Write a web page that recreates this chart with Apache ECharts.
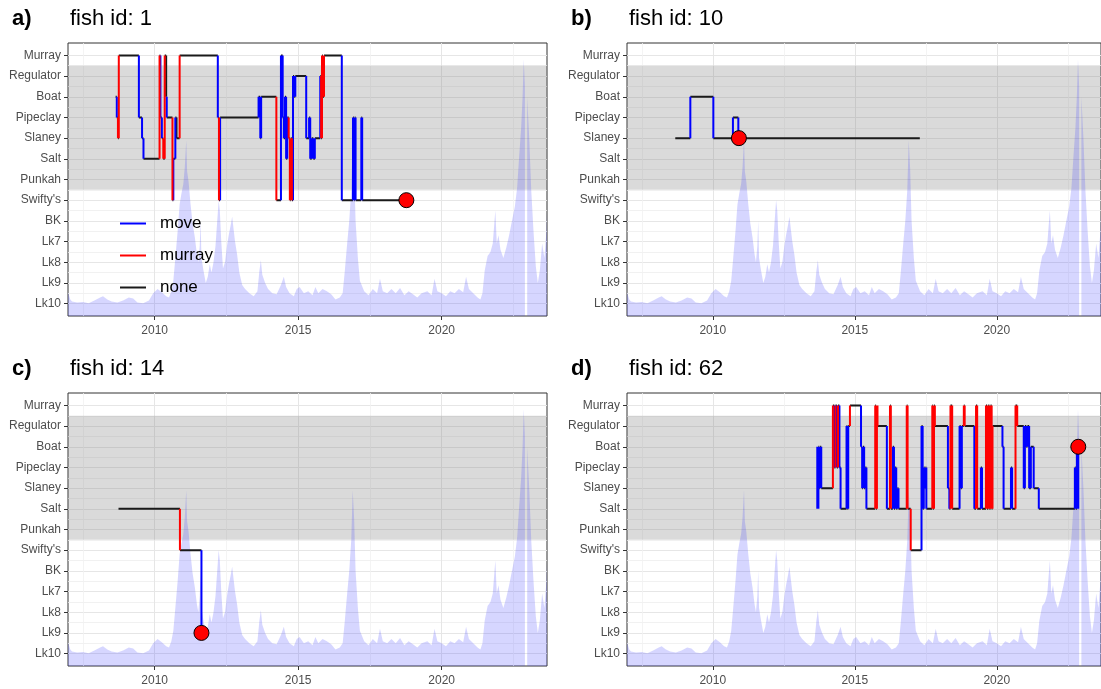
<!DOCTYPE html>
<html>
<head>
<meta charset="utf-8">
<script src="https://cdn.jsdelivr.net/npm/echarts@6/dist/echarts.min.js"></script>
<style>
  html, body { margin: 0; padding: 0; background: #fff; }
  #main { width: 1101px; height: 689px; }
</style>
</head>
<body>
<div id="main"></div>
<script>
// sites, bottom to top of the y axis
const locations = ['Lk10', 'Lk9', 'Lk8', 'Lk7', 'BK', "Swifty's", 'Punkah', 'Salt', 'Slaney', 'Pipeclay', 'Boat', 'Regulator', 'Murray'];
const moveTypes = ['move', 'murray', 'none'];
const majorYears = [2010, 2015, 2020];
const minorYears = [2007.5, 2012.5, 2017.5, 2022.5];

// river flow (scaled to the site axis)
const flowYear = [
  2006.98, 2007.02, 2007.06, 2007.12, 2007.3, 2007.5, 2007.7, 2007.9, 2008.1, 2008.2,
  2008.35, 2008.5, 2008.7, 2008.9, 2009.1, 2009.25, 2009.4, 2009.6, 2009.8, 2009.95,
  2010.1, 2010.25, 2010.4, 2010.5, 2010.58, 2010.65, 2010.72, 2010.8, 2010.87, 2010.93,
  2011.0, 2011.05, 2011.1, 2011.13, 2011.18, 2011.25, 2011.32, 2011.4, 2011.47, 2011.52,
  2011.57, 2011.6, 2011.63, 2011.7, 2011.78, 2011.85, 2011.92, 2011.98, 2012.05, 2012.12,
  2012.18, 2012.23, 2012.27, 2012.32, 2012.38, 2012.45, 2012.52, 2012.58, 2012.65, 2012.7,
  2012.75, 2012.8, 2012.87, 2012.95, 2013.05, 2013.15, 2013.3, 2013.45, 2013.58, 2013.65,
  2013.7, 2013.75, 2013.85, 2013.95, 2014.1, 2014.25, 2014.4, 2014.5, 2014.58, 2014.7,
  2014.85, 2014.95, 2015.05, 2015.2, 2015.35, 2015.5, 2015.6, 2015.7, 2015.85, 2016.0,
  2016.15, 2016.3, 2016.45, 2016.55, 2016.62, 2016.7, 2016.78, 2016.85, 2016.9, 2016.95,
  2017.0, 2017.08, 2017.15, 2017.3, 2017.45, 2017.6, 2017.75, 2017.85, 2017.95, 2018.1,
  2018.25, 2018.4, 2018.55, 2018.7, 2018.85, 2019.0, 2019.15, 2019.3, 2019.5, 2019.65,
  2019.75, 2019.85, 2020.0, 2020.15, 2020.3, 2020.45, 2020.6, 2020.75, 2020.85, 2020.95,
  2021.1, 2021.25, 2021.35, 2021.42, 2021.5, 2021.6, 2021.7, 2021.78, 2021.83, 2021.87,
  2021.92, 2021.98, 2022.05, 2022.15, 2022.25, 2022.35, 2022.45, 2022.55, 2022.63, 2022.7,
  2022.77, 2022.82, 2022.86, 2022.9, 2022.92, 2022.96, 2022.98, 2023.05, 2023.12, 2023.2,
  2023.28, 2023.35, 2023.42, 2023.5, 2023.58, 2023.65, 2023.67
];
const flowLevel = [
  1.55, 1.5, 1.2, 1.1, 1.05, 1.08, 1.02, 1.15, 1.3, 1.35,
  1.2, 1.1, 1.05, 1.15, 1.3, 1.25, 1.05, 1.02, 1.15, 1.5,
  1.7, 1.55, 1.35, 1.3, 1.6, 2.1, 3.2, 4.5, 5.8, 6.3,
  6.8, 7.6, 8.9, 7.4, 6.9, 5.8, 4.9, 4.2, 3.4, 3.0,
  3.8, 5.0, 3.2, 2.6, 2.0, 2.3, 2.9, 2.5, 3.0, 3.8,
  5.0, 6.0, 5.5, 4.0, 2.7, 3.0, 3.8, 4.3, 4.8, 5.2,
  4.6, 4.0, 3.4, 2.5, 1.9, 1.7, 1.5, 1.35, 1.6, 2.6,
  3.1, 2.4, 2.0, 1.7, 1.5, 1.45, 1.9, 2.3, 1.8, 1.5,
  1.35, 1.7, 1.8, 1.5, 1.6, 1.4, 1.8, 1.5, 1.7, 1.6,
  1.45, 1.2, 1.3, 1.5, 2.5, 3.8, 5.0, 6.5, 8.9, 7.5,
  5.0, 3.2, 2.1, 1.6, 1.4, 1.7, 1.5, 2.2, 1.6, 1.5,
  1.7, 1.5, 1.75, 1.4, 1.6, 1.45, 1.3, 1.5, 1.6, 1.4,
  2.2, 1.6, 1.5, 1.35, 1.6, 1.5, 1.7, 1.55, 2.3, 1.7,
  1.5, 1.3, 1.2, 1.5, 2.6, 3.3, 3.5, 3.9, 4.8, 5.5,
  3.9, 4.3, 3.6, 3.2, 3.7, 4.3, 5.0, 5.7, 6.6, 8.1,
  9.5, 11.0, 12.8, 11.5, null, null, 11.0, 9.0, 6.5, 4.5,
  2.8, 2.0, 2.6, 3.9, 3.2, 4.5, 5.4
];

// detections: [decimal year, site, how the fish got there]
const fish1Track = [
  [2008.64, 'Boat', 'none'], [2008.68, 'Pipeclay', 'move'], [2008.72, 'Slaney', 'murray'],
  [2008.75, 'Murray', 'murray'], [2009.45, 'Pipeclay', 'move'], [2009.56, 'Slaney', 'move'],
  [2009.61, 'Salt', 'move'], [2010.17, 'Murray', 'murray'], [2010.2, 'Pipeclay', 'move'],
  [2010.25, 'Slaney', 'move'], [2010.3, 'Salt', 'murray'], [2010.35, 'Murray', 'murray'],
  [2010.4, 'Boat', 'none'], [2010.42, 'Pipeclay', 'move'], [2010.62, "Swifty's", 'murray'],
  [2010.65, 'Salt', 'move'], [2010.72, 'Pipeclay', 'move'], [2010.76, 'Slaney', 'none'],
  [2010.87, 'Murray', 'murray'], [2012.2, 'Pipeclay', 'move'], [2012.24, "Swifty's", 'murray'],
  [2012.28, 'Pipeclay', 'move'], [2013.62, 'Boat', 'move'], [2013.68, 'Slaney', 'move'],
  [2013.71, 'Boat', 'move'], [2014.24, "Swifty's", 'murray'], [2014.4, 'Murray', 'move'],
  [2014.46, 'Pipeclay', 'move'], [2014.5, 'Slaney', 'move'], [2014.54, 'Boat', 'move'],
  [2014.58, 'Salt', 'move'], [2014.62, 'Pipeclay', 'move'], [2014.67, 'Slaney', 'murray'],
  [2014.71, "Swifty's", 'murray'], [2014.74, 'Slaney', 'murray'], [2014.78, "Swifty's", 'murray'],
  [2014.82, 'Regulator', 'move'], [2014.86, 'Boat', 'move'], [2014.9, 'Regulator', 'move'],
  [2015.28, 'Slaney', 'move'], [2015.38, 'Pipeclay', 'move'], [2015.42, 'Salt', 'move'],
  [2015.47, 'Slaney', 'move'], [2015.53, 'Salt', 'move'], [2015.58, 'Slaney', 'move'],
  [2015.77, 'Regulator', 'move'], [2015.8, 'Slaney', 'murray'], [2015.83, 'Murray', 'murray'],
  [2015.86, 'Boat', 'murray'], [2015.9, 'Murray', 'murray'], [2016.52, "Swifty's", 'move'],
  [2016.91, 'Pipeclay', 'move'], [2016.94, "Swifty's", 'move'], [2016.97, 'Pipeclay', 'move'],
  [2017.0, "Swifty's", 'move'], [2017.2, 'Pipeclay', 'move'], [2017.23, "Swifty's", 'move'],
  [2018.77, "Swifty's", 'none']
];
const fish10Track = [
  [2008.68, 'Slaney', 'none'], [2009.21, 'Boat', 'move'], [2010.02, 'Slaney', 'move'],
  [2010.71, 'Pipeclay', 'move'], [2010.9, 'Slaney', 'move'], [2017.29, 'Slaney', 'none']
];
const fish14Track = [
  [2008.74, 'Salt', 'none'], [2010.88, "Swifty's", 'murray'], [2011.63, 'Lk9', 'move']
];
const fish62Track = [
  [2013.66, 'Salt', 'none'], [2013.68, 'Boat', 'move'], [2013.7, 'Salt', 'move'],
  [2013.72, 'Boat', 'move'], [2013.75, 'Slaney', 'move'], [2013.78, 'Boat', 'move'],
  [2013.82, 'Slaney', 'move'], [2014.23, 'Murray', 'murray'], [2014.28, 'Pipeclay', 'move'],
  [2014.32, 'Murray', 'murray'], [2014.37, 'Pipeclay', 'move'], [2014.41, 'Murray', 'murray'],
  [2014.46, 'Pipeclay', 'move'], [2014.5, 'Salt', 'move'], [2014.71, 'Regulator', 'move'],
  [2014.74, 'Salt', 'move'], [2014.77, 'Regulator', 'move'], [2014.83, 'Murray', 'murray'],
  [2015.22, 'Boat', 'move'], [2015.26, 'Slaney', 'move'], [2015.29, 'Boat', 'move'],
  [2015.33, 'Slaney', 'move'], [2015.37, 'Pipeclay', 'move'], [2015.41, 'Salt', 'move'],
  [2015.72, 'Murray', 'murray'], [2015.75, 'Salt', 'murray'], [2015.78, 'Murray', 'murray'],
  [2015.8, 'Regulator', 'murray'], [2016.13, 'Salt', 'move'], [2016.24, 'Murray', 'murray'],
  [2016.27, 'Salt', 'murray'], [2016.34, 'Boat', 'move'], [2016.38, 'Salt', 'move'],
  [2016.42, 'Pipeclay', 'move'], [2016.46, 'Salt', 'move'], [2016.5, 'Slaney', 'move'],
  [2016.54, 'Salt', 'move'], [2016.83, 'Murray', 'murray'], [2016.86, 'Salt', 'murray'],
  [2016.97, "Swifty's", 'murray'], [2017.35, 'Regulator', 'move'], [2017.39, 'Salt', 'move'],
  [2017.43, 'Pipeclay', 'move'], [2017.46, 'Slaney', 'move'], [2017.49, 'Pipeclay', 'move'],
  [2017.52, 'Salt', 'move'], [2017.73, 'Murray', 'murray'], [2017.76, 'Salt', 'murray'],
  [2017.79, 'Murray', 'murray'], [2017.82, 'Regulator', 'murray'], [2018.28, 'Slaney', 'move'],
  [2018.33, 'Salt', 'move'], [2018.37, 'Murray', 'murray'], [2018.43, 'Salt', 'murray'],
  [2018.69, 'Regulator', 'move'], [2018.73, 'Slaney', 'move'], [2018.77, 'Regulator', 'move'],
  [2018.84, 'Murray', 'murray'], [2018.87, 'Regulator', 'murray'], [2019.21, 'Salt', 'move'],
  [2019.27, 'Murray', 'murray'], [2019.31, 'Salt', 'murray'], [2019.44, 'Pipeclay', 'move'],
  [2019.48, 'Salt', 'move'], [2019.62, 'Murray', 'murray'], [2019.66, 'Salt', 'murray'],
  [2019.7, 'Murray', 'murray'], [2019.74, 'Salt', 'murray'], [2019.78, 'Murray', 'murray'],
  [2019.82, 'Salt', 'murray'], [2019.85, 'Regulator', 'murray'], [2020.2, 'Boat', 'move'],
  [2020.24, 'Salt', 'move'], [2020.5, 'Pipeclay', 'move'], [2020.54, 'Salt', 'move'],
  [2020.66, 'Murray', 'murray'], [2020.72, 'Regulator', 'murray'], [2020.95, 'Slaney', 'move'],
  [2020.99, 'Regulator', 'move'], [2021.04, 'Boat', 'move'], [2021.08, 'Regulator', 'move'],
  [2021.14, 'Slaney', 'move'], [2021.2, 'Boat', 'move'], [2021.3, 'Slaney', 'move'],
  [2021.48, 'Salt', 'move'], [2022.75, 'Pipeclay', 'move'], [2022.78, 'Salt', 'move'],
  [2022.82, 'Boat', 'move'], [2022.85, 'Salt', 'move'], [2022.87, 'Boat', 'move']
];

// last known position of each fish
const fish1End = [2018.77, "Swifty's"];
const fish10End = [2010.92, 'Slaney'];
const fish14End = [2011.63, 'Lk9'];
const fish62End = [2022.87, 'Boat'];

const panels = [
  { label: 'a)', title: 'fish id: 1', track: fish1Track, end: fish1End, left: 68, top: 43 },
  { label: 'b)', title: 'fish id: 10', track: fish10Track, end: fish10End, left: 627, top: 43 },
  { label: 'c)', title: 'fish id: 14', track: fish14Track, end: fish14End, left: 68, top: 393 },
  { label: 'd)', title: 'fish id: 62', track: fish62Track, end: fish62End, left: 627, top: 393 }
];

const fontFamily = "'Liberation Sans', Arial, sans-serif";
const typeColors = { move: '#0000ff', murray: '#ff0000', none: '#1a1a1a' };
const siteValue = name => locations.indexOf(name) + 1;
const siteTicks = locations.map((d, i) => i + 1);
const siteMinor = locations.slice(1).map((d, i) => i + 1.5);
const xMin = 2006.98;
const xMax = 2023.67;
const yMin = 0.4;
const yMax = 13.6;

const flowData = flowYear.map((t, i) => [t, flowLevel[i] == null ? '-' : flowLevel[i]]);

// horizontal stays are black, vertical jumps take the colour of the move
function buildSegments(track) {
  const seg = { move: [], murray: [], none: [] };
  for (let i = 1; i < track.length; i++) {
    const [t0, l0] = track[i - 1];
    const [t1, l1, type] = track[i];
    const y0 = siteValue(l0);
    const y1 = siteValue(l1);
    seg.none.push([t0, y0], [t1, y0], [t1, '-']);
    if (y1 !== y0) seg[type].push([t1, y0], [t1, y1], [t1, '-']);
  }
  return seg;
}

const grid = [];
const xAxis = [];
const yAxis = [];
const series = [];
const title = [];

panels.forEach((p, g) => {
  grid.push({
    left: p.left, top: p.top, width: 479, height: 273,
    show: true, borderColor: '#333', borderWidth: 1, backgroundColor: '#fff'
  });

  xAxis.push({
    type: 'value', gridIndex: g, min: xMin, max: xMax,
    axisLine: { show: false },
    axisTick: { show: true, length: 4, customValues: majorYears, lineStyle: { color: '#333' } },
    axisLabel: {
      customValues: majorYears, color: '#4d4d4d', fontSize: 12, fontFamily, margin: 9,
      formatter: v => String(Math.round(v))
    },
    splitLine: { show: true, lineStyle: { color: '#e6e6e6', width: 1 } }
  });
  xAxis.push({
    type: 'value', gridIndex: g, min: xMin, max: xMax, show: true,
    axisLine: { show: false }, axisLabel: { show: false },
    axisTick: { show: false, customValues: minorYears },
    splitLine: { show: true, lineStyle: { color: '#f1f1f1', width: 0.8 } }
  });

  yAxis.push({
    type: 'value', gridIndex: g, min: yMin, max: yMax,
    axisLine: { show: false },
    axisTick: { show: true, length: 4, customValues: siteTicks, lineStyle: { color: '#333' } },
    axisLabel: {
      customValues: siteTicks, color: '#4d4d4d', fontSize: 12, fontFamily, margin: 7,
      formatter: v => locations[Math.round(v) - 1]
    },
    splitLine: { show: true, lineStyle: { color: '#e6e6e6', width: 1 } }
  });
  yAxis.push({
    type: 'value', gridIndex: g, min: yMin, max: yMax, show: true,
    axisLine: { show: false }, axisLabel: { show: false },
    axisTick: { show: false, customValues: siteMinor },
    splitLine: { show: true, lineStyle: { color: '#eeeeee', width: 0.8 } }
  });

  const xi = 2 * g;
  const yi = 2 * g;

  // flow in the background, with the grey band of the lake reach
  series.push({
    type: 'line', name: 'flow', xAxisIndex: xi, yAxisIndex: yi, data: flowData,
    symbol: 'none', silent: true, z: 2,
    lineStyle: { width: 0 },
    areaStyle: { color: 'rgba(60,60,255,0.3)', origin: 'start' },
    markArea: {
      silent: true, z: 1,
      itemStyle: { color: 'rgba(120,120,120,0.27)' },
      data: [[{ yAxis: 6.5 }, { yAxis: 12.5 }]]
    }
  });

  const seg = buildSegments(p.track);
  ['none', 'move', 'murray'].forEach((type, k) => {
    series.push({
      type: 'line', name: type, xAxisIndex: xi, yAxisIndex: yi, data: seg[type],
      symbol: 'none', silent: true, z: 3 + k, connectNulls: false,
      itemStyle: { color: typeColors[type] },
      lineStyle: { color: typeColors[type], width: 2 }
    });
  });

  series.push({
    type: 'scatter', name: 'end', xAxisIndex: xi, yAxisIndex: yi,
    data: [[p.end[0], siteValue(p.end[1])]],
    symbolSize: 15, z: 8, silent: true,
    itemStyle: { color: '#ff0000', borderColor: '#000', borderWidth: 1, opacity: 1 }
  });

  title.push({
    text: p.label, left: p.left - 56, top: p.top - 35, padding: 0,
    textStyle: { fontSize: 22, fontWeight: 'bold', color: '#000', fontFamily }
  });
  title.push({
    text: p.title, left: p.left + 2, top: p.top - 35, padding: 0,
    textStyle: { fontSize: 22, fontWeight: 'normal', color: '#000', fontFamily }
  });
});

const myChart = echarts.init(document.querySelector('#main'));

const option = {
  backgroundColor: '#fff',
  animation: false,
  title: title,
  legend: {
    data: moveTypes,
    orient: 'vertical',
    left: 115,
    top: 210,
    icon: 'rect',
    itemWidth: 26,
    itemHeight: 2,
    itemGap: 15,
    selectedMode: false,
    textStyle: { fontSize: 17, color: '#000', fontFamily, padding: [0, 0, 0, 9] }
  },
  grid: grid,
  xAxis: xAxis,
  yAxis: yAxis,
  series: series
};

myChart.setOption(option);
</script>
</body>
</html>
